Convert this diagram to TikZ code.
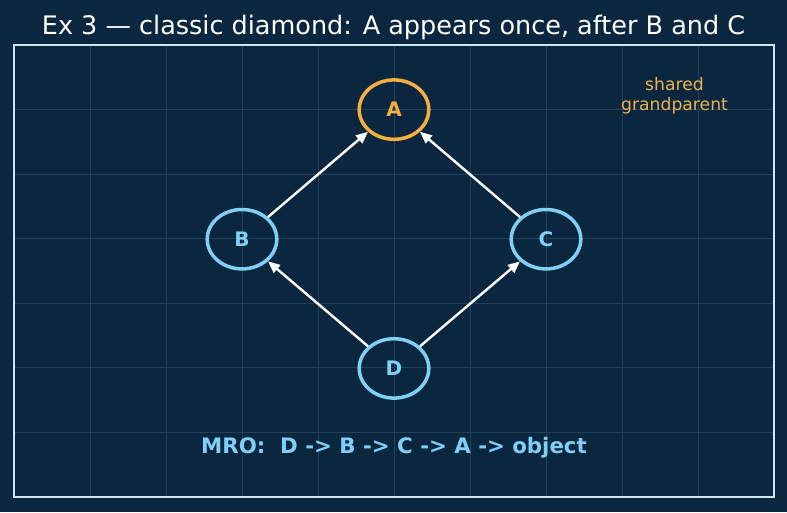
\documentclass[tikz,border=0pt]{standalone}
\usepackage{fontspec}
\setmainfont{DejaVu Sans}
\usetikzlibrary{arrows.meta,shapes.geometric}
\definecolor{bg}{HTML}{0B2740}
\definecolor{gridc}{HTML}{22405B}
\definecolor{framec}{HTML}{CFE3F3}
\definecolor{orangec}{HTML}{F5AE3F}
\definecolor{bluec}{HTML}{7FCFF6}
\definecolor{labelc}{HTML}{EDB04E}
\tikzset{
  cls/.style={ellipse, draw=bluec, line width=3.5pt, minimum width=69.6pt, minimum height=59.4pt, inner sep=0pt, text=bluec, font=\bfseries\fontsize{20}{20}\selectfont},
  top/.style={cls, draw=orangec, text=orangec},
  arr/.style={draw=white, line width=2.4pt, -{Triangle[length=12pt,width=10pt]}},
  gridline/.style={draw=gridc, line width=0.8pt}
}
\begin{document}
\begin{tikzpicture}[x=1pt,y=-1pt]
\fill[bg] (0,0) rectangle (787,512);
\useasboundingbox (0,0) rectangle (787,512);
\foreach \x in {90,166,...,698} \draw[gridline] (\x,46) -- (\x,496);
\foreach \i in {1,...,6} \draw[gridline] (15,{45+\i*64.571}) -- (773,{45+\i*64.571});
\draw[framec, line width=2pt] (14,45) rectangle (774,497);
\node[anchor=base, text=white, font=\fontsize{25.5}{30}\selectfont] (title) at (393.5,34) {Ex 3 — classic diamond: A appears once, after B and C};
\node[top] (A) at (394,109.6) {A};
\node[cls] (B) at (242,239.2) {B};
\node[cls] (C) at (546,239.2) {C};
\node[cls] (D) at (394,368.4) {D};
\draw[arr] (B) -- (A);
\draw[arr] (C) -- (A);
\draw[arr] (D) -- (B);
\draw[arr] (D) -- (C);
\node[anchor=base, text=labelc, font=\fontsize{17.2}{20}\selectfont] (lab1) at (674.5,90.5) {shared};
\node[anchor=base, text=labelc, font=\fontsize{17.2}{20}\selectfont] (lab2) at (674.5,110) {grandparent};
\node[anchor=base, text=bluec, font=\bfseries\fontsize{21.3}{24}\selectfont] (mro) at (394,453) {MRO:\ \ D -> B -> C -> A -> object};
\end{tikzpicture}
\end{document}
